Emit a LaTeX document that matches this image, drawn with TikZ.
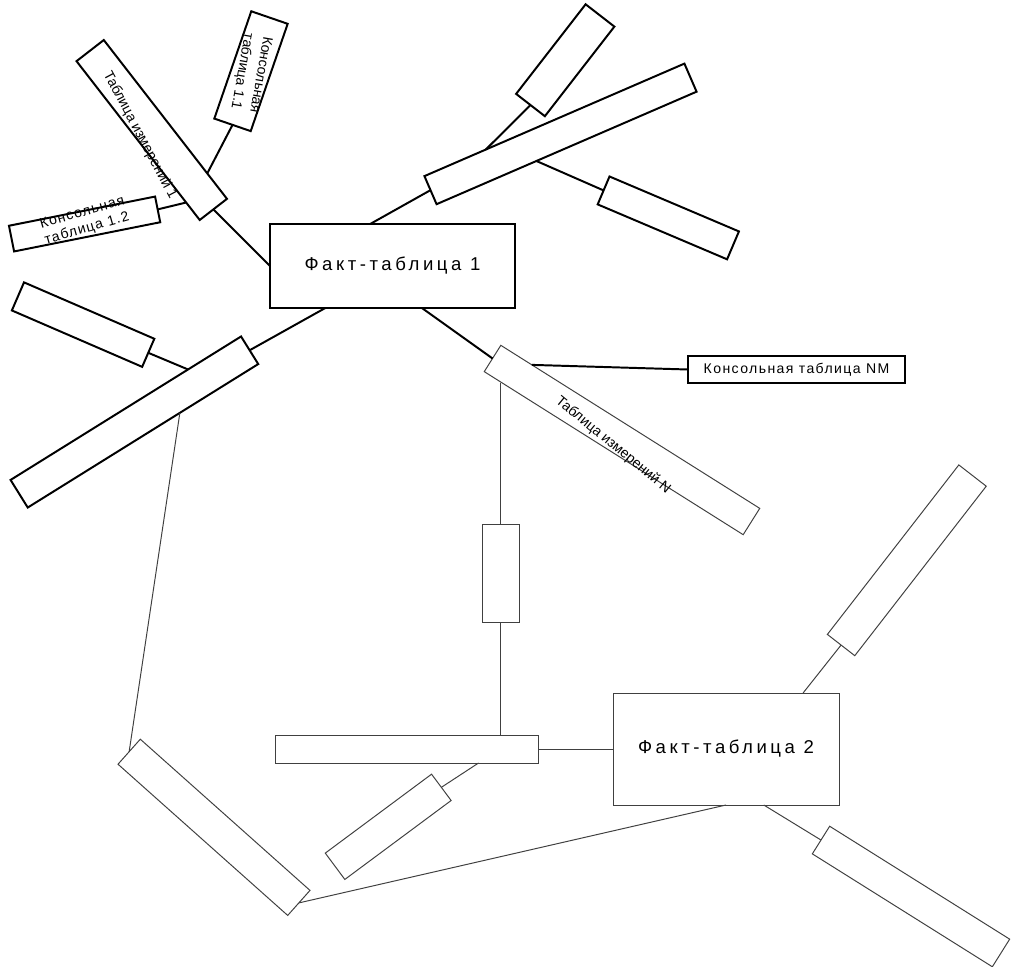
\documentclass[tikz,border=0pt]{standalone}
\usepackage{fontspec}
\setmainfont{Liberation Sans}
\usetikzlibrary{calc}

\begin{document}
\begin{tikzpicture}[
x=0.025cm, y=-0.025cm,
table1/.style={rectangle, draw=black, line width=1.4pt, inner sep=0pt, outer sep=0pt},
table2/.style={rectangle, draw=black!75, line width=0.7pt, inner sep=0pt, outer sep=0pt},
fait/.style={font=\fontsize{13.2}{16}\selectfont\addfontfeature{LetterSpace=19}},
etiquette/.style={font=\fontsize{10}{12.5}\selectfont, inner sep=0pt, align=center},
lien1/.style={draw=black, line width=1.4pt},
lien2/.style={draw=black!75, line width=0.7pt},
]
    % Longueurs
    \def\pas{0.025cm}

    \useasboundingbox (0,0) rectangle (1014,967);

    % Définition des tables (haut)
    \node [table1, fait, minimum width=245*\pas, minimum height=84*\pas] (fait1) at (392.5,266) {Факт-таблица 1};
    \node [table1, minimum width=201*\pas, minimum height=34.5*\pas, rotate=-52.2] (dim1) at (151.75,130) {};
    \node [table1, minimum width=113.5*\pas, minimum height=38.5*\pas, rotate=-109] (cons11) at (251,71.2) {};
    \node [table1, minimum width=149*\pas, minimum height=26.2*\pas, rotate=11.3] (cons12) at (84.6,224) {};
    \node [table1, etiquette, font=\fontsize{10}{12}\selectfont\addfontfeature{LetterSpace=10}, minimum width=217*\pas, minimum height=27*\pas] (consNM) at (796.5,369.5) {Консольная таблица NM};
    \node [table2, minimum width=306*\pas, minimum height=31.1*\pas, rotate=-32.2] (dimN) at (622,440) {};
    \node [table1, minimum width=271.5*\pas, minimum height=32.5*\pas, rotate=31.9] (dimL) at (134.4,422) {};
    \node [table1, minimum width=142*\pas, minimum height=30.6*\pas, rotate=-23.4] (gauche) at (83.1,324.6) {};
    \node [table1, minimum width=283.3*\pas, minimum height=30.6*\pas, rotate=23.4] (long) at (560.5,133.9) {};
    \node [table1, minimum width=113.4*\pas, minimum height=36.4*\pas, rotate=52.2] (haut) at (565.25,60.25) {};
    \node [table1, minimum width=140.6*\pas, minimum height=30.3*\pas, rotate=-23] (droite) at (668.3,217.9) {};

    % Textes inclinés
    \node [etiquette, rotate=-62] (dim1txt) at (140,135) {Таблица измерений 1};
    \node [etiquette, rotate=-39.5] (dimNtxt) at (613,445) {Таблица измерений N};
    \node [etiquette, font=\fontsize{10}{13.5}\selectfont, rotate=-100] (cons11txt) at (251,73) {Консольная\\таблица 1.1};
    \node [etiquette, font=\fontsize{10}{12}\selectfont\addfontfeature{LetterSpace=8}, rotate=16] (cons12txt) at (84.7,221) {Консольная\\таблица 1.2};

    % Définition des tables (bas)
    \node [table2, fait, minimum width=226*\pas, minimum height=112*\pas] (fait2) at (726,749) {Факт-таблица 2};
    \node [table2, minimum width=37*\pas, minimum height=98*\pas] (vert) at (500.5,573) {};
    \node [table2, minimum width=263*\pas, minimum height=28*\pas] (horiz) at (406.5,749) {};
    \node [table2, minimum width=132.4*\pas, minimum height=32.8*\pas, rotate=36.6] (milieu) at (388.2,826.8) {};
    \node [table2, minimum width=227.3*\pas, minimum height=33.5*\pas, rotate=-41.7] (basg) at (214,827.3) {};
    \node [table2, minimum width=214.5*\pas, minimum height=34.7*\pas, rotate=52.2] (hautd) at (906.8,560.3) {};
    \node [table2, minimum width=212.5*\pas, minimum height=32.6*\pas, rotate=-32.1] (basd) at (911,896.5) {};

    % Définition des liens (haut)
    \draw [lien1] (dim1.east) -- (fait1.west);
    \draw [lien1] (cons11.east) -- ($(dim1.north west)!0.84!(dim1.north east)$);
    \draw [lien1] (cons12.east) -- ($(dim1.south west)!0.89!(dim1.south east)$);
    \draw [lien1] (fait1.118) -- (long.west);
    \draw [lien1] (haut.west) -- ($(long.north west)!0.236!(long.north east)$);
    \draw [lien1] ($(long.south west)!0.384!(long.south east)$) -- (droite.west);
    \draw [lien1] (fait1.212) -- (dimL.east);
    \draw [lien1] (gauche.east) -- ($(dimL.north west)!0.77!(dimL.north east)$);
    \draw [lien1] (fait1.-55) -- (dimN.west);
    \draw [lien1] ($(dimN.north west)!0.12!(dimN.north east)$) -- (consNM.west);

    % Définition des liens (bas)
    \coordinate (piedN) at ($(dimN.south west)!0.067!(dimN.south east)$);
    \coordinate (piedL) at ($(dimL.south west)!0.66!(dimL.south east)$);
    \draw [lien2] (vert.north |- piedN) -- (vert.north);
    \draw [lien2] (vert.south) -- (vert.south |- horiz.north);
    \draw [lien2] (horiz.east) -- (fait2.west);
    \draw [lien2] (milieu.east) -- (horiz.-11);
    \draw [lien2] (piedL) -- (basg.west);
    \draw [lien2] (basg.east) -- (fait2.south);
    \draw [lien2] (fait2.36.5) -- (hautd.west);
    \draw [lien2] (fait2.-56) -- (basd.west);
\end{tikzpicture}
\end{document}
